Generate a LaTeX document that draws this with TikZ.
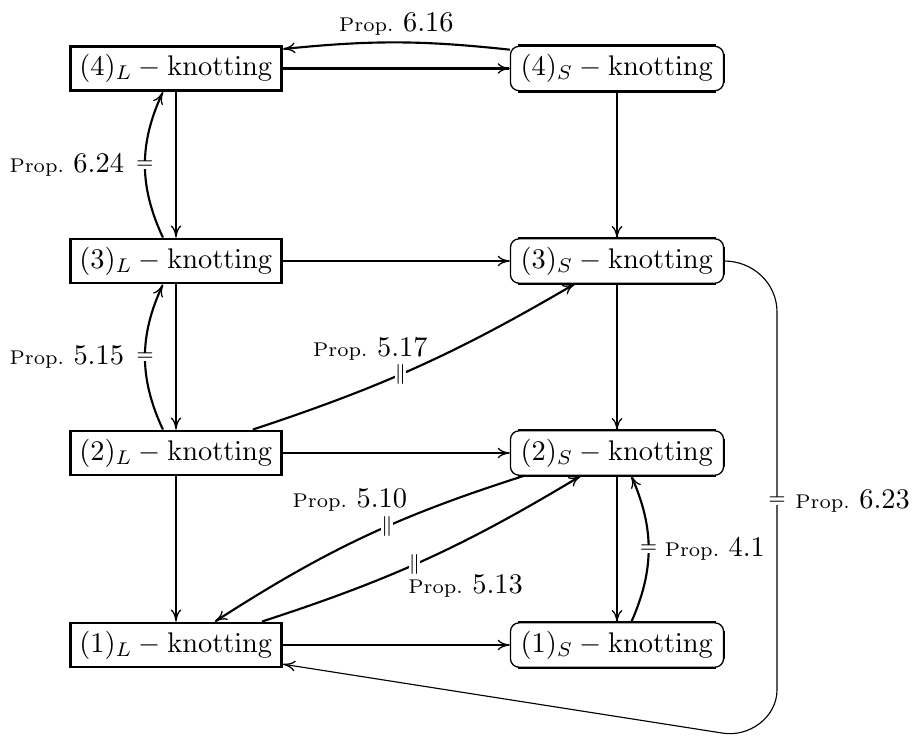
\documentclass[tikz,border=0pt]{standalone}
\usetikzlibrary{arrows.meta}
\newcommand\propl[1]{{\scriptsize Prop.}~#1}
\tikzset{
  px/.style={x=0.352pt,y=-0.352pt},
  tip/.style={-{To[length=4.3pt,width=3.8pt,line width=0.45pt]}},
  Lbox/.style={draw, line width=0.9pt, minimum width=74.4pt, minimum height=15.6pt, inner sep=2pt},
  Sbox/.style={draw, line width=0.45pt, rounded corners=3pt, minimum width=75pt, minimum height=15.6pt, inner sep=2pt},
  arr/.style={line width=0.6pt, tip},
  harr/.style={arr, line width=0.8pt},
  carr/.style={arr, line width=0.75pt},
  thinarr/.style={line width=0.4pt, tip},
  mk/.style={fill=white, inner sep=0pt, font=\scriptsize},
  lab/.style={inner sep=0pt},
  shad/.style={line width=0.9pt},
}
\begin{document}
\begin{tikzpicture}[px]
\useasboundingbox (0,0) rectangle (912,735);
% nodes
\node[Lbox] (L4) at (176,68.5) {$(4)_L-\mathrm{knotting}$};
\node[Lbox] (L3) at (176,261) {$(3)_L-\mathrm{knotting}$};
\node[Lbox] (L2) at (176,453) {$(2)_L-\mathrm{knotting}$};
\node[Lbox] (L1) at (176,645) {$(1)_L-\mathrm{knotting}$};
\node[Sbox] (S4) at (617,68.5) {$(4)_S-\mathrm{knotting}$};
\node[Sbox] (S3) at (617,261) {$(3)_S-\mathrm{knotting}$};
\node[Sbox] (S2) at (617,453) {$(2)_S-\mathrm{knotting}$};
\node[Sbox] (S1) at (617,645) {$(1)_S-\mathrm{knotting}$};
% shadows of the rounded boxes
\foreach \n in {S1,S2,S3,S4}{
  \draw[shad] ([xshift=3pt]\n.north west) -- ([xshift=-3pt]\n.north east);
  \draw[shad] ([xshift=3pt]\n.south west) -- ([xshift=-3pt]\n.south east);
  \draw[shad] ([yshift=-3pt]\n.north east) -- ([yshift=3pt]\n.south east);
}
% straight arrows
\draw[harr] (L4) -- (S4);
\draw[harr] (L3) -- (S3);
\draw[harr] (L2) -- (S2);
\draw[arr] (L1) -- (S1);
\draw[arr] (L4) -- (L3);
\draw[arr] (L3) -- (L2);
\draw[arr] (L2) -- (L1);
\draw[arr] (S4) -- (S3);
\draw[arr] (S3) -- (S2);
\draw[arr] (S2) -- (S1);
% curved arrows
\draw[carr] ([yshift=-1.4pt]S4.north west) to[bend right=6]
  node[lab, midway, yshift=6.6pt] {\propl{6.16}} ([yshift=-1.4pt]L4.north east);
\draw[carr] ([xshift=-4.6pt]L3.north) to[bend left=25]
  node[mk] {$=$} node[lab, left=7pt] {\propl{6.24}} ([xshift=-4.6pt]L4.south);
\draw[carr] ([xshift=-4.6pt]L2.north) to[bend left=25]
  node[mk] {$=$} node[lab, left=7pt] {\propl{5.15}} ([xshift=-4.6pt]L3.south);
\draw[carr] ([xshift=-10.6pt]L2.north east) to[bend right=6]
  node[mk, pos=0.44] {$\|$} node[lab, pos=0.44, xshift=-10.6pt, yshift=9pt] {\propl{5.17}} ([xshift=-14.8pt]S3.south);
\draw[carr] ([xshift=5pt]S2.south west) to[bend right=7.5]
  node[mk, pos=0.42] {$\|$} node[lab, pos=0.42, xshift=-13pt, yshift=9.2pt] {\propl{5.10}} ([xshift=13.7pt]L1.north);
\draw[carr] ([xshift=-7.4pt]L1.north east) to[bend right=6.5]
  node[mk, pos=0.46] {$\|$} node[lab, pos=0.46, xshift=18pt, yshift=-7.5pt] {\propl{5.13}} ([xshift=25pt]S2.south west);
\draw[carr] ([xshift=5pt]S1.north) to[bend right=24]
  node[mk] {$=$} node[lab, right=5.3pt] {\propl{4.1}} ([xshift=5pt]S2.south);
% long return arrow
\coordinate (c1) at (777,312);
\coordinate (c2) at (777,690);
\coordinate (c3) at (722,733);
\draw[thinarr] (S3.east) to[out=0,in=90] (c1)
  -- node[mk] {$=$} node[lab, right=6.3pt] {\propl{6.23}} (c2)
  to[out=-90,in=-10] (c3) -- ([yshift=1.5pt]L1.south east);
\end{tikzpicture}
\end{document}
